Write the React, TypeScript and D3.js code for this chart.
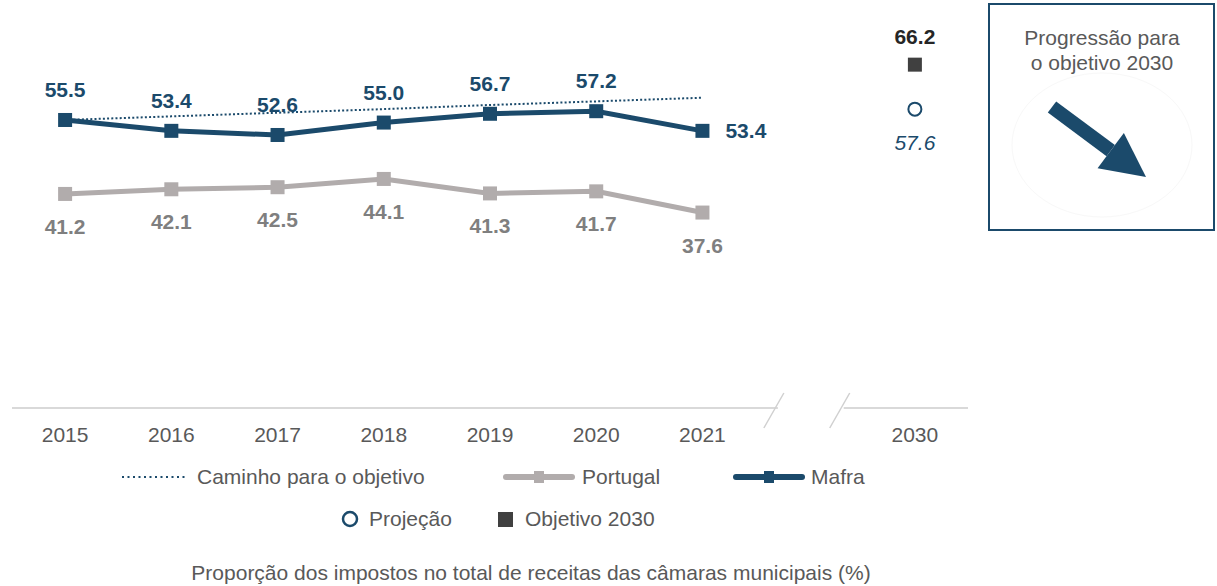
import * as d3 from "d3";

const years = ["2015", "2016", "2017", "2018", "2019", "2020", "2021", "gap", "2030"];
const tickYears = ["2015", "2016", "2017", "2018", "2019", "2020", "2021", "2030"];
const histYears = ["2015", "2016", "2017", "2018", "2019", "2020", "2021"];

const mafra = [55.5, 53.4, 52.6, 55.0, 56.7, 57.2, 53.4];
const portugal = [41.2, 42.1, 42.5, 44.1, 41.3, 41.7, 37.6];
const caminho = [55.5, 56.2, 56.9, 57.6, 58.4, 59.1, 59.8];
const objetivo2030 = 66.2;
const projecao2030 = 57.6;

const W = 1217;
const H = 586;
const FONT = "'Liberation Sans', Arial, sans-serif";
const BLUE = "#1b4a6b";
const GREY_LINE = "#b1acac";
const GREY_TEXT = "#7f7f7f";
const TEXT = "#595959";
const FS = 21;

const App = () => {
  const x = d3.scalePoint<string>().domain(years).range([12, 968]).padding(0.5);
  const y = d3.scaleLinear().domain([0, 70]).range([407, 45]);
  const step = x.step();

  const line = d3
    .line<number>()
    .x((_, i) => x(histYears[i]) as number)
    .y((d) => y(d));

  const axisY = y(0) + 1;
  const gapX = x("gap") as number;
  const b1 = gapX - 0.29 * step;
  const b2 = gapX + 0.33 * step;
  const x2030 = x("2030") as number;

  const sq = 14;

  // arrow in the box
  const a0: [number, number] = [1052, 107];
  const a1: [number, number] = [1146, 177];
  const ang = Math.atan2(a1[1] - a0[1], a1[0] - a0[0]);
  const headLen = 44;
  const headHalf = 22;
  const base: [number, number] = [a1[0] - headLen * Math.cos(ang), a1[1] - headLen * Math.sin(ang)];
  const nx = -Math.sin(ang);
  const ny = Math.cos(ang);
  const head = [
    [a1[0], a1[1]],
    [base[0] + nx * headHalf, base[1] + ny * headHalf],
    [base[0] - nx * headHalf, base[1] - ny * headHalf],
  ];

  return (
    <div style={{ position: "absolute", left: 0, top: 0 }}>
      <svg width={W} height={H} style={{ display: "block", fontFamily: FONT }}>
        <rect width={W} height={H} fill="#fff" />

        {/* axis with break */}
        <line x1={12} x2={b1} y1={axisY} y2={axisY} stroke="#d9d9d9" strokeWidth={2} />
        <line x1={b2} x2={968} y1={axisY} y2={axisY} stroke="#d9d9d9" strokeWidth={2} />
        <line x1={b1 - 14} y1={axisY + 20} x2={b1 + 6} y2={axisY - 15} stroke="#d0d0d0" strokeWidth={1.5} />
        <line x1={b2 - 14} y1={axisY + 20} x2={b2 + 6} y2={axisY - 15} stroke="#d0d0d0" strokeWidth={1.5} />
        {tickYears.map((t) => (
          <text key={t} x={x(t)} y={442} textAnchor="middle" fontSize={FS} fill={TEXT}>
            {t}
          </text>
        ))}

        {/* path to objective */}
        <path
          d={line(caminho) as string}
          fill="none"
          stroke={BLUE}
          strokeWidth={2}
          strokeDasharray="2 2.2"
        />

        {/* Portugal */}
        <path d={line(portugal) as string} fill="none" stroke={GREY_LINE} strokeWidth={5} />
        {portugal.map((v, i) => (
          <g key={"p" + i}>
            <rect
              x={(x(histYears[i]) as number) - sq / 2}
              y={y(v) - sq / 2}
              width={sq}
              height={sq}
              fill={GREY_LINE}
            />
            <text
              x={x(histYears[i])}
              y={y(v) + 40}
              textAnchor="middle"
              fontSize={FS}
              fontWeight="bold"
              fill={GREY_TEXT}
            >
              {v.toFixed(1)}
            </text>
          </g>
        ))}

        {/* Mafra */}
        <path d={line(mafra) as string} fill="none" stroke={BLUE} strokeWidth={5} />
        {mafra.map((v, i) => {
          const last = i === mafra.length - 1;
          const cx = x(histYears[i]) as number;
          return (
            <g key={"m" + i}>
              <rect x={cx - sq / 2} y={y(v) - sq / 2} width={sq} height={sq} fill={BLUE} />
              <text
                x={last ? cx + 23 : cx}
                y={last ? y(v) + 7 : y(v) - 23}
                textAnchor={last ? "start" : "middle"}
                fontSize={FS}
                fontWeight="bold"
                fill={BLUE}
              >
                {v.toFixed(1)}
              </text>
            </g>
          );
        })}

        {/* 2030 */}
        <text x={x2030} y={y(objetivo2030) - 21} textAnchor="middle" fontSize={FS} fontWeight="bold" fill="#262626">
          {objetivo2030.toFixed(1)}
        </text>
        <rect x={x2030 - 7} y={y(objetivo2030) - 7} width={14} height={14} fill="#404040" />
        <circle cx={x2030} cy={y(projecao2030)} r={6.5} fill="#fff" stroke={BLUE} strokeWidth={2} />
        <text x={x2030} y={y(projecao2030) + 41} textAnchor="middle" fontSize={FS} fontStyle="italic" fill={BLUE}>
          {projecao2030.toFixed(1)}
        </text>

        {/* box */}
        <rect x={989} y={4} width={225} height={226} fill="#fff" stroke={BLUE} strokeWidth={2} />
        <ellipse cx={1102} cy={145} rx={90} ry={72} fill="none" stroke="#f8f8f8" strokeWidth={1} />
        <text x={1102} y={45} textAnchor="middle" fontSize={FS} fill={TEXT}>
          Progressão para
        </text>
        <text x={1102} y={70} textAnchor="middle" fontSize={FS} fill={TEXT}>
          o objetivo 2030
        </text>
        <line x1={a0[0]} y1={a0[1]} x2={base[0]} y2={base[1]} stroke={BLUE} strokeWidth={14} />
        <polygon points={head.map((p) => p.join(",")).join(" ")} fill={BLUE} />

        {/* legend */}
        <line x1={122} x2={185} y1={477} y2={477} stroke={BLUE} strokeWidth={2} strokeDasharray="2 3.5" />
        <text x={197} y={484} fontSize={FS} fill={TEXT}>
          Caminho para o objetivo
        </text>
        <line x1={506} x2={572} y1={477} y2={477} stroke={GREY_LINE} strokeWidth={6} strokeLinecap="round" />
        <rect x={534} y={471} width={10} height={12} fill={GREY_LINE} />
        <text x={582} y={484} fontSize={FS} fill={TEXT}>
          Portugal
        </text>
        <line x1={736} x2={802} y1={477} y2={477} stroke={BLUE} strokeWidth={6} strokeLinecap="round" />
        <rect x={764} y={471} width={10} height={12} fill={BLUE} />
        <text x={811} y={484} fontSize={FS} fill={TEXT}>
          Mafra
        </text>

        <circle cx={350} cy={519} r={7} fill="#fff" stroke={BLUE} strokeWidth={2.5} />
        <text x={369} y={526} fontSize={FS} fill={TEXT}>
          Projeção
        </text>
        <rect x={498} y={512} width={15} height={15} fill="#404040" />
        <text x={525} y={526} fontSize={FS} fill={TEXT}>
          Objetivo 2030
        </text>

        <text x={531} y={580} textAnchor="middle" fontSize={FS} fill={TEXT}>
          Proporção dos impostos no total de receitas das câmaras municipais (%)
        </text>
      </svg>
    </div>
  );
};

export default App;
